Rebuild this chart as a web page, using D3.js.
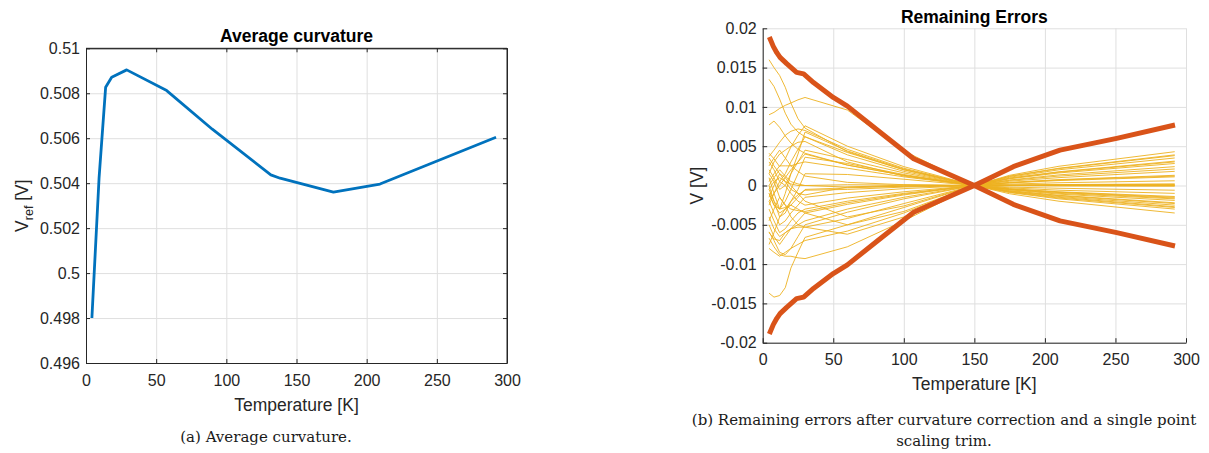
<!DOCTYPE html>
<html lang="en">
<head>
<meta charset="UTF-8">
<title>Average curvature and remaining errors</title>
<style>
  body { margin: 0; background: #fff; }
  svg text { font-family: "Liberation Sans", Arial, Helvetica, sans-serif; fill: #262626; }
  .tick text { font-size: 16px; }
  .axis-label { font-size: 17.5px; }
  .title { font-size: 17.5px; font-weight: bold; fill: #000; }
  .caption { font-family: "DejaVu Serif", "Liberation Serif", serif; font-size: 15px; fill: #1a1a1a; }
  .grid line { stroke: #dfdfdf; stroke-width: 1; }
  .grid path { display: none; }
</style>
</head>
<body>
<svg id="fig" width="1209" height="453"></svg>

<script src="https://d3js.org/d3.v7.min.js"></script>
<script>
// ---- data: (a) average curvature ----
const tempAvg = [4.2, 9.3, 14, 18.3, 29, 57.5, 90, 131.7, 138.3, 176.3, 209.5, 292.2];
const vrefAvg = [0.498, 0.50422, 0.50827, 0.50871, 0.50904, 0.50812, 0.5064, 0.50437, 0.50422, 0.5036, 0.50396, 0.50604];

// ---- data: (b) remaining errors, values in mV ----
const tempErr = [4.5, 8, 12, 16, 20, 25, 30, 60, 100, 150, 175, 210, 292];
const errLines = [
  [16.0, 15.0, 14.0, 12.5, 10.5, 8.5, 7.3, 4.3, 2.0, 0, -0.8, -1.5, -2.7],
  [13.5, 12.6, 11.0, 9.2, 7.8, 6.8, 6.2, 3.9, 1.8, 0, -0.7, -1.3, -2.3],
  [9.0, 9.3, 9.8, 10.2, 10.5, 10.9, 11.2, 9.6, 4.4, 0, -1.05, -2.0, -3.5],
  [7.7, 8.2, 7.4, 6.3, 5.4, 4.6, 4.1, 2.6, 1.3, 0, -0.5, -1.0, -1.7],
  [4.1, 3.4, 2.4, 3.4, 4.9, 6.4, 7.6, 5.0, 2.4, 0, -0.9, -1.7, -3.0],
  [3.7, 4.5, 5.5, 6.4, 6.9, 7.2, 7.0, 4.6, 2.2, 0, -0.85, -1.6, -2.8],
  [3.0, 2.0, 0.5, 1.5, 3.0, 4.6, 6.2, 4.2, 2.0, 0, -0.65, -1.25, -2.2],
  [2.0, 1.0, -0.5, 0.0, 1.5, 3.0, 4.5, 3.3, 1.6, 0, -0.55, -1.1, -1.9],
  [1.0, -1.0, -3.0, -2.0, -0.5, 1.5, 3.6, 2.8, 1.4, 0, -0.45, -0.85, -1.5],
  [0.5, 1.5, 2.5, 2.5, 2.5, 2.8, 3.0, 2.2, 1.1, 0, -0.3, -0.6, -1.0],
  [0.0, -2.0, -4.0, -3.5, -2.0, -0.5, 1.5, 1.4, 0.8, 0, -0.2, -0.35, -0.6],
  [-0.5, 0.5, 1.0, 0.5, 0.2, 0.0, 0.0, 0.1, 0.05, 0, 0.0, 0.0, 0.0],
  [-1.0, -2.5, -3.0, -2.8, -2.5, -1.5, -0.5, -0.3, -0.1, 0, 0.03, 0.06, 0.1],
  [-2.0, -3.5, -5.0, -4.5, -3.5, -2.5, -1.5, -0.9, -0.4, 0, 0.18, 0.35, 0.6],
  [-2.5, -1.0, 0.5, 0.0, -1.0, -2.0, -2.5, -1.6, -0.8, 0, 0.33, 0.63, 1.1],
  [-3.0, -4.5, -6.0, -5.5, -4.5, -3.5, -3.0, -2.0, -1.0, 0, 0.4, 0.75, 1.3],
  [-4.0, -5.5, -6.5, -6.0, -5.5, -4.5, -3.5, -2.4, -1.2, 0, 0.55, 1.0, 1.8],
  [-5.0, -6.5, -7.5, -6.5, -5.5, -5.0, -4.5, -3.0, -1.5, 0, 0.65, 1.2, 2.1],
  [-5.9, -7.0, -8.5, -8.8, -8.0, -6.5, -5.0, -3.4, -1.7, 0, 0.7, 1.35, 2.4],
  [-6.7, -7.8, -8.8, -9.0, -9.0, -9.2, -9.3, -7.8, -4.5, 0, 1.3, 2.45, 4.3],
  [-8.0, -8.5, -9.0, -8.5, -8.0, -7.5, -7.0, -5.8, -3.5, 0, 1.15, 2.15, 3.8],
  [-13.7, -14.2, -14.0, -13.0, -10.5, -8.5, -6.6, -5.0, -2.8, 0, 0.95, 1.75, 3.1],
  [-4.5, -3.0, -1.5, -2.5, -4.0, -5.0, -5.3, -4.2, -2.3, 0, 0.85, 1.6, 2.8],
  [-6.0, -6.8, -7.0, -6.0, -5.5, -5.3, -5.3, -6.2, -4.0, 0, 1.2, 2.2, 3.9],
  [-7.5, -6.0, -4.0, -3.0, -2.5, -3.0, -3.5, -5.0, -3.3, 0, 1.05, 2.0, 3.5],
  [-1.5, 0.0, 1.5, 1.0, 0.0, -1.0, -2.0, -4.0, -2.6, 0, 0.9, 1.7, 3.0],
  [1.5, 0.5, -1.5, -2.5, -3.0, -3.2, -3.3, -2.2, -1.1, 0, 0.35, 0.7, 1.2],
  [2.5, 3.5, 4.5, 3.5, 2.5, 1.8, 1.2, 0.4, 0.1, 0, 0.0, 0.0, 0.0],
  [0.0, 1.0, 2.0, 1.2, 0.5, 0.2, 0.0, -0.2, -0.1, 0, 0.05, 0.1, 0.15],
  [-1.0, -2.5, -3.5, -3.0, -2.0, -1.2, -0.6, -0.5, -0.2, 0, 0.06, 0.12, 0.2],
  [3.5, 2.5, 1.5, 0.5, -0.5, -1.0, -1.2, -0.2, 0.05, 0, -0.03, -0.06, -0.1],
  [-0.5, -2.0, -3.0, -1.0, 1.5, 4.0, 6.8, 4.4, 2.1, 0, -0.75, -1.4, -2.5],
  [1.5, 3.0, 4.0, 4.5, 5.0, 5.5, 5.6, 3.0, 1.2, 0, -0.5, -0.9, -1.6],
  [-2.0, -1.0, 0.0, 1.0, 2.0, 3.0, 4.0, 2.6, 1.3, 0, -0.4, -0.8, -1.4]
];
const tempEnv = [4.7, 7.5, 10, 12.3, 17, 24, 29, 36, 50, 60, 83, 107, 150, 177.6, 210.7, 250.9, 292.2];
const envDown = [18.9, 17.7, 16.9, 16.3, 15.5, 14.4, 14.2, 13.1, 11.2, 10.1, 6.8, 3.4, 0, -2.4, -4.5, -6.0, -7.7];
const envUp = [-18.9, -17.7, -16.9, -16.3, -15.5, -14.4, -14.2, -13.1, -11.2, -10.1, -6.8, -3.4, 0, 2.4, 4.5, 6.0, 7.7];

// ---- ticks ----
const xTicks = [0, 50, 100, 150, 200, 250, 300];
const yTicksAvg = [0.496, 0.498, 0.5, 0.502, 0.504, 0.506, 0.508, 0.51];
const yLabelsAvg = ["0.496", "0.498", "0.5", "0.502", "0.504", "0.506", "0.508", "0.51"];
const yTicksErr = [-0.02, -0.015, -0.01, -0.005, 0, 0.005, 0.01, 0.015, 0.02];
const yLabelsErr = ["-0.02", "-0.015", "-0.01", "-0.005", "0", "0.005", "0.01", "0.015", "0.02"];

const svg = d3.select("#fig");

function drawPanel(p) {
  const x = d3.scaleLinear().domain([0, 300]).range([p.left, p.right]);
  const y = d3.scaleLinear().domain(p.yDomain).range([p.bottom, p.top]);
  const w = p.right - p.left, h = p.bottom - p.top;
  const g = svg.append("g");

  // grid
  g.append("g").attr("class", "grid")
    .attr("transform", `translate(0,${p.bottom})`)
    .call(d3.axisBottom(x).tickValues(xTicks).tickSize(-h).tickFormat(""));
  g.append("g").attr("class", "grid")
    .attr("transform", `translate(${p.left},0)`)
    .call(d3.axisLeft(y).tickValues(p.yTicks).tickSize(-w).tickFormat(""));

  // box on top/right
  if (p.box) {
    const bx = g.append("g").attr("stroke", "#262626").attr("stroke-width", 1);
    bx.append("line").attr("x1", p.left).attr("x2", p.right).attr("y1", p.top).attr("y2", p.top);
    bx.append("line").attr("x1", p.right).attr("x2", p.right).attr("y1", p.top).attr("y2", p.bottom);
    g.append("g").attr("transform", `translate(0,${p.top})`)
      .call(d3.axisTop(x).tickValues(xTicks).tickSize(-4).tickSizeOuter(0).tickFormat(""))
      .call(a => a.selectAll("line,path").attr("stroke", "#262626"));
    g.append("g").attr("transform", `translate(${p.right},0)`)
      .call(d3.axisRight(y).tickValues(p.yTicks).tickSize(-4).tickSizeOuter(0).tickFormat(""))
      .call(a => a.selectAll("line,path").attr("stroke", "#262626"));
  }

  // series
  p.plot(g, x, y);

  // axes
  g.append("g").attr("transform", `translate(0,${p.bottom})`)
    .call(d3.axisBottom(x).tickValues(xTicks).tickSize(-p.tick).tickSizeOuter(0).tickPadding(p.xPad))
    .call(a => a.selectAll("line,path").attr("stroke", "#262626"))
    .call(a => a.selectAll("text").attr("fill", "#262626"));
  g.append("g").attr("transform", `translate(${p.left},0)`)
    .call(d3.axisLeft(y).tickValues(p.yTicks).tickSize(-p.tick).tickSizeOuter(0).tickPadding(6)
      .tickFormat((d, i) => p.yLabels[i]))
    .call(a => a.selectAll("line,path").attr("stroke", "#262626"))
    .call(a => a.selectAll("text").attr("fill", "#262626"));

  // title and labels
  const cx = (p.left + p.right) / 2;
  g.append("text").attr("class", "title").attr("x", cx).attr("y", p.titleY)
    .attr("text-anchor", "middle").text(p.title);
  g.append("text").attr("class", "axis-label").attr("x", cx).attr("y", p.xLabelY)
    .attr("text-anchor", "middle").text("Temperature [K]");
  const yl = g.append("text").attr("class", "axis-label")
    .attr("transform", `translate(${p.yLabelX},${(p.top + p.bottom) / 2}) rotate(-90)`)
    .attr("text-anchor", "middle");
  p.yLabel(yl);
}

// (a)
drawPanel({
  left: 86, right: 507, top: 48.3, bottom: 363,
  yDomain: [0.496, 0.51], yTicks: yTicksAvg, yLabels: yLabelsAvg,
  box: true, tick: 4, xPad: 12,
  title: "Average curvature", titleY: 42,
  xLabelY: 411, yLabelX: 28,
  yLabel: t => {
    t.append("tspan").text("V");
    t.append("tspan").attr("font-size", "12.5px").attr("dy", 5).text("ref");
    t.append("tspan").attr("dy", -5).text(" [V]");
  },
  plot: (g, x, y) => {
    const line = d3.line().x((d, i) => x(tempAvg[i])).y(d => y(d));
    g.append("path").datum(vrefAvg)
      .attr("fill", "none").attr("stroke", "#0072BD")
      .attr("stroke-width", 2.8).attr("stroke-linejoin", "round")
      .attr("d", line);
  }
});

// (b)
drawPanel({
  left: 762.7, right: 1186, top: 28.3, bottom: 342.7,
  yDomain: [-0.02, 0.02], yTicks: yTicksErr, yLabels: yLabelsErr,
  box: false, tick: 4.5, xPad: 11,
  title: "Remaining Errors", titleY: 22.5,
  xLabelY: 389.5, yLabelX: 703,
  yLabel: t => t.text("V [V]"),
  plot: (g, x, y) => {
    const thin = d3.line().x((d, i) => x(tempErr[i])).y(d => y(d / 1000));
    g.selectAll(".err").data(errLines).join("path")
      .attr("class", "err")
      .attr("fill", "none").attr("stroke", "#EDB120")
      .attr("stroke-width", 1).attr("stroke-opacity", 0.9)
      .attr("d", thin);
    const env = d3.line().x((d, i) => x(tempEnv[i])).y(d => y(d / 1000));
    g.selectAll(".env").data([envDown, envUp]).join("path")
      .attr("class", "env")
      .attr("fill", "none").attr("stroke", "#D95319")
      .attr("stroke-width", 5).attr("stroke-linejoin", "round")
      .attr("d", env);
  }
});

// captions
svg.append("text").attr("class", "caption").attr("x", 266).attr("y", 442)
  .attr("text-anchor", "middle").text("(a) Average curvature.");
const cap = svg.append("text").attr("class", "caption").attr("text-anchor", "middle");
cap.append("tspan").attr("x", 944).attr("y", 425)
  .text("(b) Remaining errors after curvature correction and a single point");
cap.append("tspan").attr("x", 944).attr("y", 446).text("scaling trim.");
</script>
</body>
</html>
